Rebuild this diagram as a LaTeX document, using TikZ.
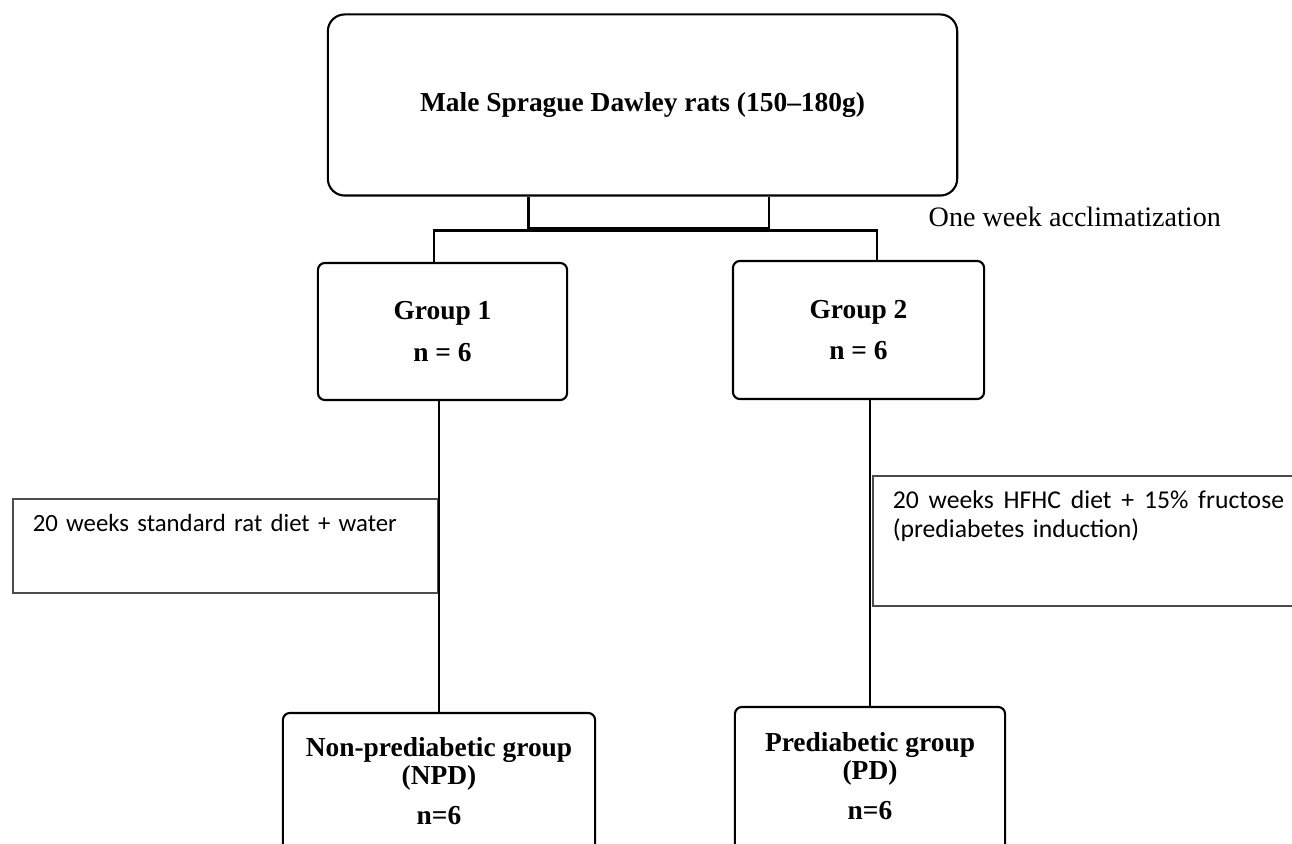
\documentclass[tikz,border=0pt]{standalone}
\usepackage{fontspec}
\setmainfont{Liberation Serif}
\newfontfamily\dietfont{Carlito}

\tikzset{
  box/.style={draw, line width=0.6pt, rounded corners=2pt, align=center,
    font=\bfseries\fontsize{7.8}{8}\selectfont},
  dietbox/.style={draw=black!70, line width=0.45pt, anchor=north west,
    align=left, inner xsep=0.2cm, inner ysep=0.16cm, text height=0.17cm,
    font=\dietfont\fontsize{7.3}{8.25}\selectfont},
  link/.style={line width=0.6pt}
}

\begin{document}
\begin{tikzpicture}[x=0.01cm,y=-0.01cm]
  \useasboundingbox (0,0) rectangle (1292,843);
  \clip (0,0) rectangle (1292,843);
  % --- groups ---
  \node[box, rounded corners=4.8pt, minimum width=6.29cm, minimum height=1.81cm] (rats) at (642.5,105) {Male Sprague Dawley rats (150–180g)};
  \node[box, minimum width=2.49cm, minimum height=1.37cm] (g1) at (442.5,331.5) {Group 1\\[3.7pt]n = 6};
  \node[box, minimum width=2.51cm, minimum height=1.38cm] (g2) at (858.5,330) {Group 2\\[3.7pt]n = 6};
  % bottom boxes run off the page
  \node[box, minimum width=3.12cm, minimum height=1.60cm] (npd) at (439,793) {Non-prediabetic group\\(NPD)\\[3.4pt]n=6\rule[-0.24cm]{0pt}{0pt}};
  \node[box, minimum width=2.70cm, minimum height=1.60cm] (pd) at (870,787) {Prediabetic group\\(PD)\\[3.4pt]n=6\rule[-0.22cm]{0pt}{0pt}};
  % --- diets ---
  \node[dietbox, text width=3.85cm, text depth=0.45cm, font=\dietfont\fontsize{7.05}{8.25}\selectfont] (std) at (12,498) {20 weeks standard rat diet + water};
  \node[dietbox, text width=3.91cm, text depth=0.81cm] (hfhc) at (872,475) {\makebox[\linewidth][s]{20\hfill weeks\hfill HFHC\hfill diet\hfill +\hfill 15\%\hfill fructose}\\(prediabetes induction)};
  % --- connectors ---
  \coordinate (splitL) at (528.5,228);
  \coordinate (splitR) at (769,228);
  \coordinate (forkL) at (434,230.5);
  \coordinate (forkR) at (877,230.5);
  \draw[link] (rats.south -| splitL) -- (splitL) -- (splitR) -- (rats.south -| splitR);
  \draw[link] (g1.north -| forkL) -- (forkL) -- (forkR) -- (g2.north -| forkR);
  \draw[link] (npd.north |- g1.south) -- (npd.north);
  \draw[link] (pd.north |- g2.south) -- (pd.north);
  \node[anchor=base west, inner sep=0pt, font=\fontsize{8}{9.6}\selectfont] (acclim) at (928,227) {One week acclimatization};
\end{tikzpicture}
\end{document}
